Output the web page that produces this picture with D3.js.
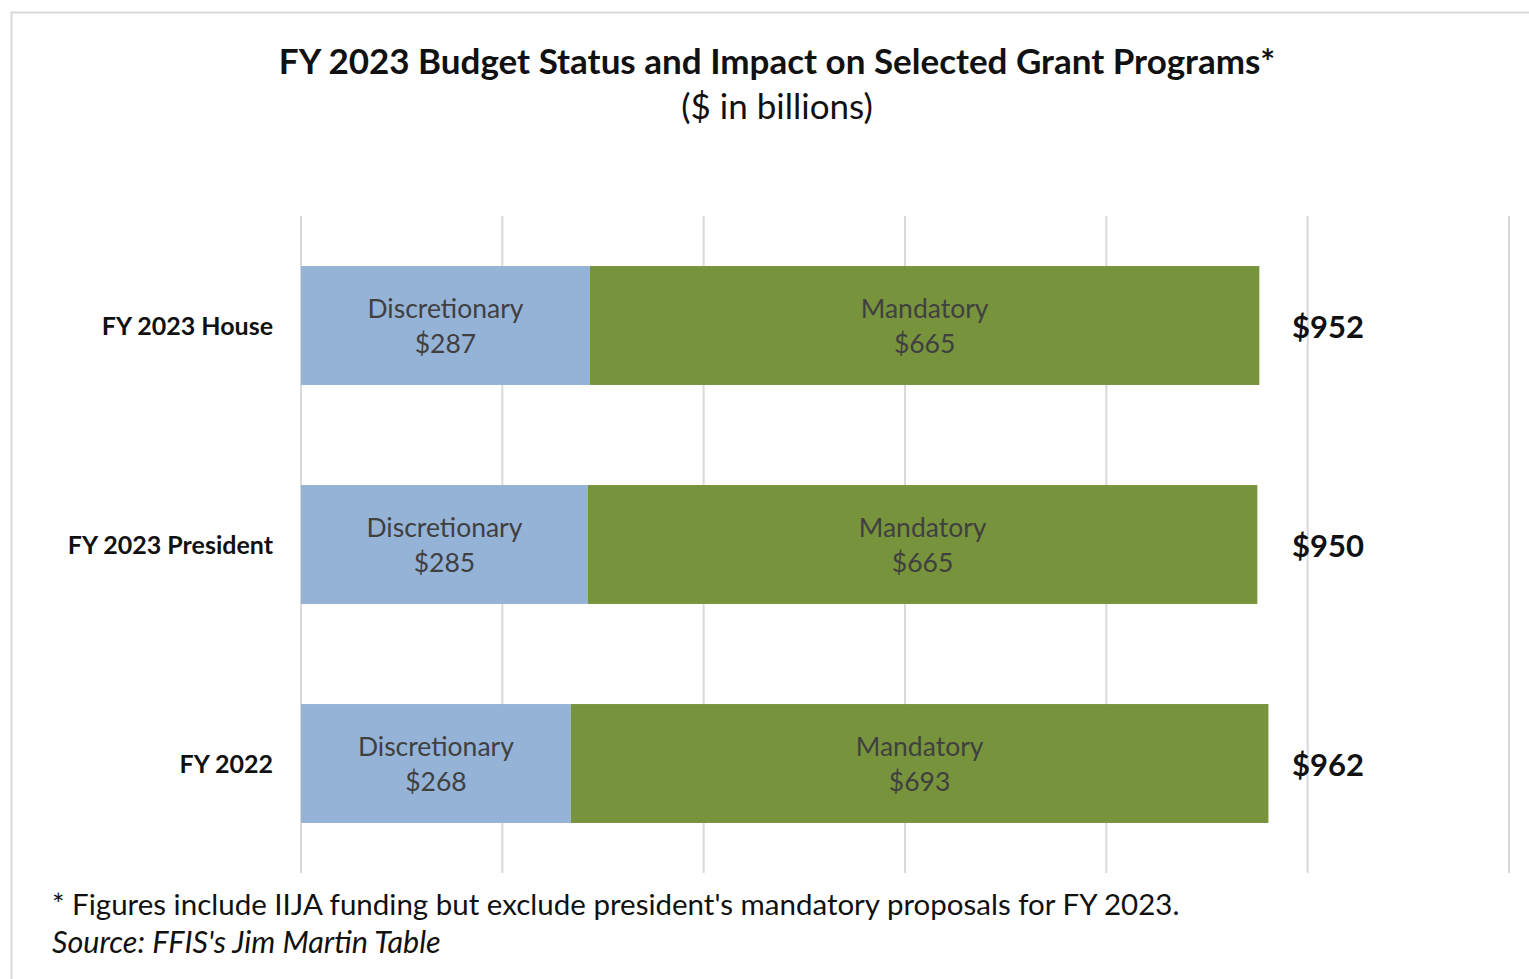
<!DOCTYPE html>
<html>
<head>
<meta charset="utf-8">
<script src="https://cdn.jsdelivr.net/npm/d3@7"></script>
<style>
  body { margin: 0; background: #fff; }
  text { font-family: Lato, "Open Sans", sans-serif; }
</style>
</head>
<body>
<script>
let width = 1529;
let height = 979;

let categories = ["FY 2023 House", "FY 2023 President", "FY 2022"];
let discretionary = [287, 285, 268];
let mandatory = [665, 665, 693];
let totals = [952, 950, 962];
let xTicks = [0, 200, 400, 600, 800, 1000, 1200];

let blueColor = "#95b3d7";
let greenColor = "#77933c";
let gridColor = "#d9d9d9";
let labelColor = "#404040";

let svg = d3
  .select("body")
  .append("svg")
  .attr("width", width)
  .attr("height", height);

// outer frame, runs off the right and bottom edge like the screenshot
svg
  .append("rect")
  .attr("x", 11.5)
  .attr("y", 12.5)
  .attr("width", width + 20)
  .attr("height", height + 20)
  .attr("fill", "#fff")
  .attr("stroke", gridColor)
  .attr("stroke-width", 2);

let x = d3.scaleLinear().domain([0, 1200]).range([301, 1509]);
let y = d3
  .scaleBand()
  .domain(categories)
  .range([216, 873])
  .paddingInner(0.457)
  .paddingOuter(0.2285);

// gridlines
svg
  .selectAll(".grid")
  .data(xTicks)
  .enter()
  .append("line")
  .attr("x1", d => x(d))
  .attr("x2", d => x(d))
  .attr("y1", 216)
  .attr("y2", 873)
  .attr("stroke", gridColor)
  .attr("stroke-width", 2);

let rows = categories.map(function(c, i) {
  return { cat: c, disc: discretionary[i], mand: mandatory[i], total: totals[i] };
});

let row = svg
  .selectAll(".row")
  .data(rows)
  .enter()
  .append("g");

row
  .append("rect")
  .attr("x", x(0))
  .attr("y", d => y(d.cat))
  .attr("width", d => x(d.disc) - x(0))
  .attr("height", y.bandwidth())
  .attr("fill", blueColor);

row
  .append("rect")
  .attr("x", d => x(d.disc))
  .attr("y", d => y(d.cat))
  .attr("width", d => x(d.disc + d.mand) - x(d.disc))
  .attr("height", y.bandwidth())
  .attr("fill", greenColor);

function segmentLabel(sel, name, lo, hi, valueOf) {
  let t = sel
    .append("text")
    .attr("text-anchor", "middle")
    .attr("fill", labelColor)
    .attr("font-size", 26.5);
  t.append("tspan")
    .attr("x", d => (x(lo(d)) + x(hi(d))) / 2)
    .attr("y", d => y(d.cat) + y.bandwidth() / 2 - 8)
    .text(name);
  t.append("tspan")
    .attr("x", d => (x(lo(d)) + x(hi(d))) / 2)
    .attr("y", d => y(d.cat) + y.bandwidth() / 2 + 27)
    .text(d => "$" + valueOf(d));
}

segmentLabel(row, "Discretionary", d => 0, d => d.disc, d => d.disc);
segmentLabel(row, "Mandatory", d => d.disc, d => d.disc + d.mand, d => d.mand);

// category labels
row
  .append("text")
  .attr("x", 273)
  .attr("y", d => y(d.cat) + y.bandwidth() / 2 + 9)
  .attr("text-anchor", "end")
  .attr("font-size", 25)
  .attr("font-weight", "bold")
  .attr("fill", "#111")
  .text(d => d.cat);

// totals
row
  .append("text")
  .attr("x", 1292)
  .attr("y", d => y(d.cat) + y.bandwidth() / 2 + 12)
  .attr("font-size", 31)
  .attr("font-weight", "bold")
  .attr("fill", "#111")
  .text(d => "$" + d.total);

svg
  .append("text")
  .attr("x", 777)
  .attr("y", 74)
  .attr("text-anchor", "middle")
  .attr("font-size", 35)
  .attr("font-weight", "bold")
  .attr("fill", "#111")
  .text("FY 2023 Budget Status and Impact on Selected Grant Programs*");

svg
  .append("text")
  .attr("x", 777)
  .attr("y", 119)
  .attr("text-anchor", "middle")
  .attr("font-size", 35)
  .attr("fill", "#111")
  .text("($ in billions)");

svg
  .append("text")
  .attr("x", 52)
  .attr("y", 915)
  .attr("font-size", 29.5)
  .attr("fill", "#111")
  .text("* Figures include IIJA funding but exclude president's mandatory proposals for FY 2023.");

svg
  .append("text")
  .attr("x", 52)
  .attr("y", 953)
  .attr("font-size", 30.5)
  .attr("font-style", "italic")
  .attr("fill", "#111")
  .text("Source: FFIS's Jim Martin Table");
</script>
</body>
</html>
